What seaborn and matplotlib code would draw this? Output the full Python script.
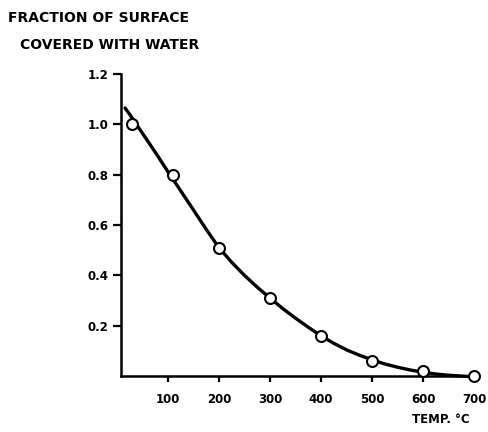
import numpy as np
import pandas as pd
import matplotlib.pyplot as plt
import seaborn as sns

# measured points (temperature in deg C, fraction covered)
temp_pts = [30, 110, 200, 300, 400, 500, 600, 700]
frac_pts = [1.00, 0.80, 0.51, 0.31, 0.16, 0.06, 0.02, 0.00]

# hand-drawn smooth curve
temp_curve = [16, 25, 50, 75, 100, 125, 150, 175, 200, 225, 250, 275, 300, 325, 350,
              375, 400, 425, 450, 475, 500, 525, 550, 575, 600, 625, 650, 675, 690]
frac_curve = [1.065, 1.04, 0.965, 0.89, 0.812, 0.736, 0.66, 0.583, 0.51, 0.452, 0.40,
              0.353, 0.31, 0.268, 0.23, 0.194, 0.16, 0.13, 0.104, 0.083, 0.064, 0.048,
              0.035, 0.024, 0.015, 0.008, 0.003, 0.0, -0.002]

x_ticks = [100, 200, 300, 400, 500, 600, 700]
y_ticks = [0.2, 0.4, 0.6, 0.8, 1.0, 1.2]

sns.set_style("ticks")
plt.rcParams['font.family'] = ['DejaVu Sans']
plt.rcParams.update({'text.color': 'black', 'axes.edgecolor': 'black',
                     'xtick.color': 'black', 'ytick.color': 'black',
                     'xtick.labelcolor': 'black', 'ytick.labelcolor': 'black'})

fig = plt.figure(figsize=(4.89, 4.32), dpi=100)
ax = fig.add_axes([0.2474, 0.1296, 0.722, 0.699])

curve = pd.DataFrame({'temp': temp_curve, 'frac': frac_curve})
pts = pd.DataFrame({'temp': temp_pts, 'frac': frac_pts})

sns.lineplot(data=curve, x='temp', y='frac', ax=ax, color='black', linewidth=2.4,
             clip_on=False, zorder=2)
sns.scatterplot(data=pts, x='temp', y='frac', ax=ax, s=62, marker='o',
                facecolor='white', edgecolor='black', linewidth=1.5,
                clip_on=False, zorder=3)

ax.set_xlim(8, 700)
ax.set_ylim(0, 1.2)
ax.set_xticks(x_ticks)
ax.set_yticks(y_ticks)
ax.set_xticklabels([str(v) for v in x_ticks], fontsize=8.5, fontweight='bold')
ax.set_yticklabels([f'{v:.1f}' for v in y_ticks], fontsize=8.5, fontweight='bold')
ax.tick_params(axis='y', direction='out', length=6, width=1.6, pad=3)
ax.tick_params(axis='x', direction='out', length=4, width=1.6, pad=8)
ax.set_xlabel('')
ax.set_ylabel('')

for side in ['top', 'right']:
    ax.spines[side].set_visible(False)
for side in ['left', 'bottom']:
    ax.spines[side].set_linewidth(1.8)

fig.text(0.016, 0.958, 'FRACTION OF SURFACE', fontsize=10, fontweight='bold',
         ha='left', va='center')
fig.text(0.04, 0.896, 'COVERED WITH WATER', fontsize=10, fontweight='bold',
         ha='left', va='center')
fig.text(0.96, 0.028, 'TEMP. °C', fontsize=8.5, fontweight='bold',
         ha='right', va='center')

fig.savefig('out.png', dpi=100)
